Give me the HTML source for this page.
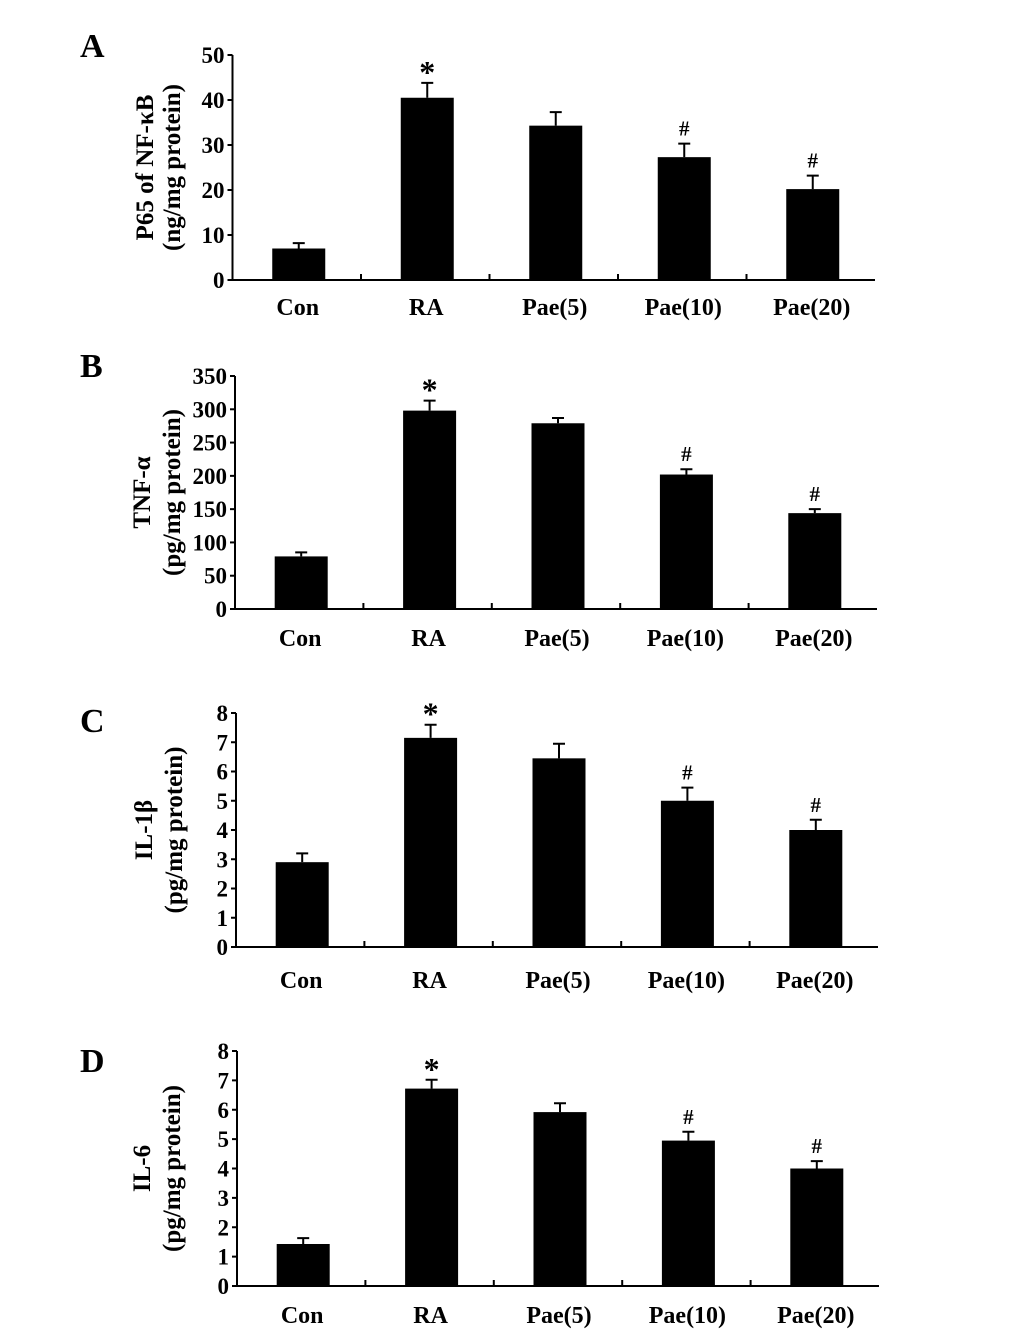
<!DOCTYPE html>
<html><head><meta charset="utf-8"><style>
html,body{margin:0;padding:0;background:#fff}
svg{display:block}
text{font-family:"Liberation Serif",serif;font-weight:bold;fill:#000}
</style></head><body>
<svg id="fig" width="1033" height="1343"></svg>
<script>
const categories = ["Con","RA","Pae(5)","Pae(10)","Pae(20)"];
const valuesA = [7, 40.5, 34.3, 27.3, 20.2];
const errorsA = [1.2, 3.3, 3.0, 3.0, 3.0];
const valuesB = [79, 298, 279, 202, 144];
const errorsB = [6, 15, 8, 8, 6];
const valuesC = [2.9, 7.15, 6.45, 5.0, 4.0];
const errorsC = [0.3, 0.45, 0.5, 0.45, 0.35];
const valuesD = [1.43, 6.72, 5.92, 4.95, 4.0];
const errorsD = [0.2, 0.3, 0.3, 0.3, 0.25];
const marks = ["", "*", "", "#", "#"];
const ticksA = [0,10,20,30,40,50];
const ticksB = [0,50,100,150,200,250,300,350];
const ticksC = [0,1,2,3,4,5,6,7,8];
const ticksD = [0,1,2,3,4,5,6,7,8];

const NS="http://www.w3.org/2000/svg";
const svg=document.getElementById('fig');
function mk(tag,attrs,parent,txt){const e=document.createElementNS(NS,tag);for(const k in attrs)e.setAttribute(k,attrs[k]);if(txt!==undefined)e.textContent=txt;(parent||svg).appendChild(e);return e;}

const panels=[
 {id:"a",letter:"A",ly:57,ax:232.5,y0:280,yt:55,xe:875,vals:valuesA,errs:errorsA,ticks:ticksA,t1:"P65 of NF-κB",t2:"(ng/mg protein)",cy:307,tx1:153,tx2:180},
 {id:"b",letter:"B",ly:377,ax:235,y0:609,yt:376,xe:877,vals:valuesB,errs:errorsB,ticks:ticksB,t1:"TNF-α",t2:"(pg/mg protein)",cy:638,tx1:150,tx2:180},
 {id:"c",letter:"C",ly:732,ax:236,y0:947,yt:713,xe:878,vals:valuesC,errs:errorsC,ticks:ticksC,t1:"IL-1β",t2:"(pg/mg protein)",cy:980,tx1:152,tx2:182},
 {id:"d",letter:"D",ly:1072,ax:237,y0:1286,yt:1051,xe:879,vals:valuesD,errs:errorsD,ticks:ticksD,t1:"IL-6",t2:"(pg/mg protein)",cy:1315,tx1:150,tx2:180}
];

panels.forEach(p=>{
  const g=mk('g',{});
  
  
  const max=p.ticks[p.ticks.length-1];
  const y=v=>p.y0-(v/max)*(p.y0-p.yt);
  const band=(p.xe-p.ax)/categories.length;
  const xc=i=>p.ax+band*(i+0.5);
  const L=mk('text',{x:80,y:p.ly,'font-size':34},g,p.letter);
  
  
  const ya=mk('line',{x1:p.ax,y1:p.yt,x2:p.ax,y2:p.y0,stroke:'#000','stroke-width':2},g);
  
  
  const xa=mk('line',{x1:p.ax,y1:p.y0,x2:p.xe,y2:p.y0,stroke:'#000','stroke-width':2},g);
  
  
  p.ticks.forEach(t=>{
    mk('line',{x1:p.ax-5,y1:y(t),x2:p.ax,y2:y(t),stroke:'#000','stroke-width':2},g);
    const tl=mk('text',{x:p.ax-8,y:y(t)+8,'font-size':23,'text-anchor':'end'},g,t);
    
    
  });
  for(let i=1;i<categories.length;i++){
    mk('line',{x1:p.ax+band*i,y1:p.y0,x2:p.ax+band*i,y2:p.y0-6,stroke:'#000','stroke-width':2},g);
  }
  const cyy=(p.y0+p.yt)/2;
  const t1=mk('text',{x:p.tx1,y:cyy,'font-size':25,'text-anchor':'middle',transform:`rotate(-90 ${p.tx1} ${cyy})`},g,p.t1);
  
  
  const t2=mk('text',{x:p.tx2,y:cyy,'font-size':25,'text-anchor':'middle',transform:`rotate(-90 ${p.tx2} ${cyy})`},g,p.t2);
  
  
  categories.forEach((c,i)=>{
    const bw=53, v=p.vals[i], e=p.errs[i];
    const b=mk('rect',{x:xc(i)-bw/2+2,y:y(v),width:bw,height:p.y0-y(v),fill:'#000'},g);
    
    
    const ex=xc(i)+2;
    const eb=mk('path',{d:`M${ex} ${y(v)} V${y(v+e)} M${ex-6} ${y(v+e)} H${ex+6}`,stroke:'#000','stroke-width':2,fill:'none'},g);
    
    
    if(marks[i]){
      const m=mk('text',{x:ex,y:y(v+e)-(marks[i]=='*'?0:8),'font-size':marks[i]=='*'?32:21,'text-anchor':'middle'},g,marks[i]);
      
      
    }
    const cl=mk('text',{x:xc(i)+1,y:p.cy+8,'font-size':24,'text-anchor':'middle'},g,c);
    
    
  });
});
</script>
</body></html>
